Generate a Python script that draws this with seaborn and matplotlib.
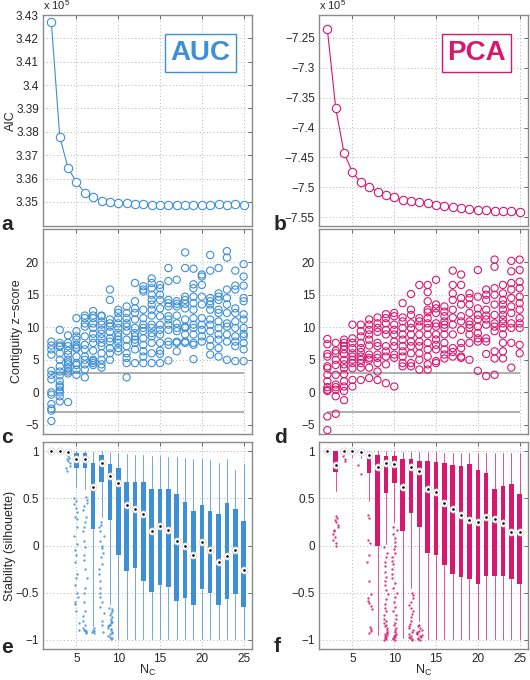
import numpy as np
import pandas as pd
import matplotlib
matplotlib.use('Agg')
import matplotlib.pyplot as plt
from matplotlib.ticker import FuncFormatter
import seaborn as sns

sns.set_style('white')
plt.rcParams['font.family'] = ['Liberation Sans', 'DejaVu Sans']
plt.rcParams['mathtext.fontset'] = 'custom'
plt.rcParams['mathtext.rm'] = 'Liberation Sans'
plt.rcParams['mathtext.it'] = 'Liberation Sans'

BLUE = '#3d8fd6'
PINK = '#d8176f'

nc = list(range(2, 26))

# AIC (x 1e5)
auc_aic = [3.4269, 3.3780, 3.3645, 3.3585, 3.3538, 3.3520, 3.3503, 3.3500, 3.3497, 3.3494,
           3.3491, 3.3490, 3.3489, 3.3489, 3.3487, 3.3486, 3.3486, 3.3487, 3.3487, 3.3486,
           3.3491, 3.3487, 3.3491, 3.3487]
pca_aic = [-7.2355, -7.3677, -7.4429, -7.4747, -7.4920, -7.4998, -7.5076, -7.5132, -7.5171, -7.5210,
           -7.5227, -7.5255, -7.5266, -7.5299, -7.5310, -7.5333, -7.5344, -7.5366, -7.5377, -7.5389,
           -7.5400, -7.5405, -7.5405, -7.5411]

# contiguity z-scores, one list per N_C
auc_z = [
    [7.8, 7.2, 6.6, 5.8, 3.3, 2.7, 2.0, 0.0, -0.35, -1.8, -2.5, -2.8, -4.4],
    [9.6, 7.6, 7.2, 7.0, 6.0, 5.0, 4.0, 3.2, 2.6, 1.7, 1.1, 0.8, 0.3, 0.0, -0.6, -1.4],
    [8.75, 7.6, 7.1, 6.4, 5.8, 5.0, 4.6, 4.3, 3.7, 3.2, 2.9, -1.5],
    [11.4, 9.4, 8.6, 8.1, 7.3, 6.9, 6.7, 5.5, 4.5, 4.2, 3.5, 2.7],
    [11.8, 11.4, 10.6, 10.1, 8.6, 7.3, 6.6, 5.5, 5.0, 4.3, 3.5, 2.3],
    [12.5, 11.8, 11.4, 10.6, 9.9, 9.0, 8.3, 7.6, 6.4, 5.0, 4.8, 4.5, 4.2],
    [11.8, 11.7, 10.9, 10.4, 9.6, 9.0, 8.3, 7.6, 7.1, 6.0, 5.0, 4.3, 3.8],
    [15.8, 14.2, 11.2, 10.6, 10.1, 9.3, 8.3, 7.8, 6.8, 6.0, 5.0],
    [12.7, 12.2, 11.4, 10.6, 9.9, 9.1, 8.6, 8.1, 7.6, 6.8, 6.3],
    [13.2, 12.2, 11.4, 10.6, 10.1, 9.4, 8.1, 7.1, 6.0, 5.3, 4.5, 2.3],
    [16.8, 14.0, 12.9, 12.2, 11.2, 9.9, 9.1, 8.6, 8.1, 7.6, 6.6, 4.5],
    [16.3, 15.8, 15.5, 12.7, 11.4, 10.4, 9.9, 9.4, 8.3, 7.3, 6.3, 5.5, 4.5],
    [17.5, 16.8, 16.0, 15.0, 14.2, 13.5, 12.7, 11.8, 10.4, 9.9, 9.1, 8.6, 7.6, 6.0, 4.5],
    [16.5, 16.0, 15.0, 14.2, 12.9, 11.7, 10.4, 9.6, 8.9, 7.6, 6.4, 5.9, 4.5],
    [19.1, 17.1, 14.2, 13.7, 13.2, 11.7, 11.2, 10.4, 9.6, 7.8, 7.3, 4.9],
    [17.3, 14.0, 13.6, 13.2, 11.8, 10.6, 9.9, 9.4, 7.8, 7.6, 6.3],
    [21.5, 19.1, 14.7, 14.2, 13.6, 12.9, 11.2, 10.1, 9.9, 8.9, 7.8, 7.6],
    [19.0, 16.6, 16.0, 14.7, 13.7, 12.7, 11.4, 10.4, 9.9, 8.9, 7.6, 7.3, 5.1],
    [18.1, 17.8, 16.5, 14.7, 13.5, 11.4, 10.4, 9.6, 8.6, 7.8],
    [21.1, 18.7, 14.5, 14.0, 13.5, 12.7, 11.2, 10.4, 9.4, 8.1, 7.1, 5.8],
    [19.1, 15.2, 14.7, 14.2, 12.7, 12.2, 10.9, 9.9, 8.9, 8.1, 6.8, 5.5],
    [21.7, 20.7, 15.8, 14.5, 13.5, 12.2, 10.6, 10.1, 8.9, 7.8, 5.0],
    [18.7, 16.4, 15.8, 12.9, 12.2, 10.9, 9.9, 8.6, 7.8, 7.1, 4.8],
    [19.7, 17.8, 16.4, 14.5, 14.0, 12.0, 11.2, 9.9, 9.0, 8.6, 7.6, 6.6, 4.8],
]
pca_z = [
    [8.2, 7.4, 5.9, 5.5, 4.0, 3.7, 2.7, 1.7, 0.8, 0.4, 0.2, -3.7, -5.8],
    [7.6, 6.4, 6.0, 5.0, 4.2, 2.7, 1.2, 0.8, 0.4, -0.6, -3.3],
    [8.1, 7.6, 7.1, 6.6, 5.9, 5.0, 4.3, 3.7, 2.8, 1.7, 0.9, 0.2, -1.2],
    [10.4, 8.3, 7.6, 6.8, 6.0, 5.5, 5.0, 4.5, 3.7, 1.9, 0.9],
    [10.4, 9.4, 8.6, 7.6, 6.8, 6.2, 5.5, 5.0, 4.5, 3.8, 1.9],
    [11.2, 10.4, 9.6, 8.9, 8.1, 7.2, 5.8, 5.3, 5.0, 3.8, 2.2],
    [11.5, 10.6, 9.9, 9.3, 7.6, 7.1, 5.8, 5.3, 4.5, 3.2, 1.9],
    [12.0, 11.4, 10.6, 9.6, 8.9, 7.1, 6.3, 5.5, 4.3, 1.4],
    [12.2, 11.7, 10.4, 9.6, 8.9, 7.8, 7.1, 5.8, 5.3, 0.9],
    [13.7, 11.5, 10.9, 9.9, 8.9, 8.1, 7.1, 6.3, 5.5, 4.5, 4.0],
    [15.1, 12.7, 11.9, 10.6, 9.9, 8.9, 7.8, 7.1, 6.0, 4.5, 4.0],
    [16.5, 11.4, 10.9, 10.1, 8.9, 7.8, 7.1, 6.0, 5.0, 3.5],
    [16.5, 15.4, 14.0, 12.7, 12.3, 11.4, 10.6, 9.9, 8.9, 7.6, 6.6, 5.5, 4.3, 3.5],
    [17.3, 13.5, 12.9, 12.2, 10.6, 10.1, 8.9, 8.1, 7.3, 6.6, 4.8, 4.5],
    [13.2, 12.4, 11.7, 10.9, 10.4, 9.9, 8.9, 7.6, 6.6, 5.8, 5.2],
    [18.7, 16.5, 15.2, 14.2, 12.7, 11.5, 10.4, 8.9, 6.8, 6.2, 5.5],
    [18.1, 16.5, 14.5, 13.5, 11.7, 10.9, 9.6, 7.6, 6.8, 5.5, 5.3],
    [15.2, 14.5, 13.5, 12.2, 10.9, 10.4, 9.9, 8.9, 7.6, 5.0],
    [18.8, 14.7, 12.9, 11.9, 11.2, 10.1, 9.1, 8.3, 7.8, 3.3],
    [15.8, 15.0, 14.2, 12.7, 11.8, 11.2, 10.4, 8.3, 7.8, 5.9, 2.5],
    [20.4, 19.3, 16.0, 15.0, 13.5, 11.9, 10.6, 10.1, 9.4, 6.3, 5.2, 2.7],
    [16.5, 15.2, 14.2, 13.5, 12.7, 11.9, 11.2, 10.6, 9.9, 8.9, 7.6, 6.3, 5.2],
    [20.2, 18.6, 16.8, 15.8, 14.5, 13.2, 12.2, 10.6, 9.9, 7.6, 3.8],
    [20.4, 18.8, 17.0, 16.0, 14.7, 13.7, 12.7, 11.4, 10.6, 9.9, 7.3, 6.0],
]
z_thresholds = [3, -3]

# stability (silhouette) box summaries
auc_med = [1.0, 1.0, 0.99, 0.92, 0.92, 0.62, 0.88, 0.74, 0.66, 0.43, 0.39, 0.33,
           0.15, 0.21, 0.17, 0.05, 0.0, -0.1, 0.04, -0.05, -0.18, -0.11, -0.05, -0.26]
auc_q1 = [0.995, 0.995, 0.98, 0.82, 0.82, 0.18, 0.68, 0.27, -0.1, -0.27, -0.24, -0.38,
          -0.49, -0.42, -0.44, -0.59, -0.56, -0.63, -0.46, -0.5, -0.63, -0.57, -0.52, -0.65]
auc_q3 = [1.0, 1.0, 1.0, 0.98, 0.98, 0.88, 0.965, 0.87, 0.82, 0.67, 0.67, 0.67,
          0.6, 0.6, 0.6, 0.55, 0.46, 0.37, 0.43, 0.37, 0.34, 0.45, 0.39, 0.26]
auc_lo = [0.99, 0.99, 0.96, 0.62, 0.6, -0.86, 0.3, -0.62, -0.99, -0.99, -0.99, -0.99,
          -0.99, -0.99, -0.99, -0.99, -0.99, -0.99, -0.99, -0.99, -0.99, -0.99, -0.99, -0.99]
auc_hi = [1.0, 1.0, 1.0, 1.0, 1.0, 0.99, 1.0, 0.99, 0.98, 0.97, 0.96, 0.96,
          0.95, 0.95, 0.94, 0.94, 0.93, 0.92, 0.92, 0.91, 0.88, 0.92, 0.8, 0.87]
auc_out = {
    4: [0.95, 0.93, 0.92, 0.9, 0.88, 0.85, 0.82, 0.79],
    5: [0.5, 0.47, 0.44, 0.4, 0.36, 0.3, 0.28, 0.2, 0.1, 0.02, -0.05, -0.1, -0.18, -0.3,
        -0.35, -0.42, -0.5, -0.55, -0.6, -0.62, -0.7, -0.82, -0.9],
    6: [0.52, 0.48, 0.45, 0.42, 0.38, 0.3, 0.25, 0.2, 0.15, 0.05, -0.02, -0.1, -0.15, -0.25,
        -0.35, -0.45, -0.5, -0.6, -0.7, -0.75, -0.8, -0.85, -0.88, -0.9, -0.9, -0.91, -0.92, -0.93],
    7: [-0.88, -0.9, -0.91, -0.92, -0.93],
    8: [0.25, 0.22, 0.2, 0.15, 0.1, 0.05, 0.0, -0.03, -0.08, -0.12, -0.2, -0.25, -0.3, -0.38,
        -0.45, -0.5, -0.55, -0.6, -0.65, -0.72, -0.8, -0.85, -0.92],
    9: [-0.66, -0.68, -0.7, -0.72, -0.74, -0.76, -0.78, -0.8, -0.81, -0.82, -0.84, -0.85, -0.86,
        -0.88, -0.89, -0.9, -0.92, -0.93, -0.94, -0.96, -0.97, -0.98, -0.99],
}

pca_med = [1.0, 0.86, 1.0, 1.0, 0.99, 0.96, 0.83, 0.88, 0.87, 0.62, 0.83, 0.79,
           0.6, 0.57, 0.45, 0.39, 0.32, 0.27, 0.25, 0.3, 0.28, 0.24, 0.14, 0.14]
pca_q1 = [0.995, 0.78, 0.98, 0.97, 0.97, 0.77, -0.01, 0.56, 0.66, 0.15, 0.35, 0.2,
          -0.08, -0.1, -0.21, -0.3, -0.33, -0.36, -0.41, -0.32, -0.32, -0.32, -0.36, -0.41]
pca_q3 = [1.0, 1.0, 1.0, 1.0, 1.0, 0.97, 0.965, 0.95, 0.95, 0.92, 0.92, 0.9,
          0.9, 0.89, 0.88, 0.86, 0.84, 0.87, 0.8, 0.77, 0.6, 0.63, 0.65, 0.55]
pca_lo = [0.99, 0.58, 0.96, 0.94, 0.93, 0.47, -0.95, 0.02, 0.25, -0.98, -0.45, -0.8,
          -0.99, -0.99, -0.99, -0.99, -0.99, -0.99, -0.99, -0.99, -0.99, -0.99, -0.99, -0.99]
pca_hi = [1.0, 1.0, 1.0, 1.0, 1.0, 1.0, 1.0, 1.0, 1.0, 0.99, 0.99, 0.99,
          0.99, 0.99, 0.98, 0.98, 0.98, 0.98, 0.98, 0.98, 0.98, 0.98, 0.98, 0.98]
pca_out = {
    3: [0.31, 0.29, 0.27, 0.25, 0.22, 0.2, 0.17, 0.15, 0.12, 0.09, 0.06, 0.03, 0.0],
    4: [0.95, 0.92, 0.9],
    6: [0.86, 0.76],
    7: [0.32, 0.29, 0.06, 0.03, -0.1, -0.18, -0.38, -0.52, -0.56, -0.59, -0.61, -0.64, -0.67,
        -0.87, -0.89, -0.91, -0.93],
    9: [-0.02, -0.08, -0.12, -0.18, -0.22, -0.28, -0.33, -0.38, -0.42, -0.47, -0.52, -0.57,
        -0.62, -0.66, -0.7, -0.74, -0.78, -0.8, -0.82, -0.84, -0.86, -0.88, -0.9, -0.92,
        -0.93, -0.94, -0.95, -0.96, -0.97, -0.98, -0.99, -1.0],
    10: [0.2, 0.16, 0.12, 0.08, 0.04, 0.0, -0.04, -0.08, -0.12, -0.16, -0.2, -0.25, -0.3,
         -0.35, -0.4, -0.45, -0.5, -0.55, -0.6, -0.65, -0.7, -0.74, -0.78, -0.82, -0.85,
         -0.88, -0.9, -0.92, -0.94, -0.95, -0.96, -0.97, -0.98, -0.99, -1.0],
    12: [-0.5, -0.53, -0.56, -0.6, -0.63, -0.66, -0.7, -0.73, -0.76, -0.8, -0.83, -0.86,
         -0.88, -0.9, -0.92, -0.94, -0.96, -0.97, -0.98, -0.99, -1.0],
    13: [-0.84, -0.86, -0.88, -0.9, -0.91, -0.92, -0.93, -0.94, -0.95, -0.96, -0.97, -0.98,
         -0.99, -1.0],
}

W, H = 530, 680
fig = plt.figure(figsize=(W / 100, H / 100), dpi=100)


def px_axes(x0, y0, x1, y1):
    return fig.add_axes([x0 / W, 1 - y1 / H, (x1 - x0) / W, (y1 - y0) / H])


def style(ax, ylim, yticks, xlabels=False):
    ax.set_xlim(1, 26)
    ax.set_xticks([5, 10, 15, 20, 25])
    ax.set_ylim(*ylim)
    ax.set_yticks(yticks)
    ax.set_axisbelow(True)
    ax.grid(True, linestyle=(0, (1, 2.5)), color='#b5b5b5', linewidth=0.7)
    ax.tick_params(direction='in', length=3, width=0.6, top=True, right=True,
                   color='#555555', labelsize=8.5, pad=3)
    for s in ax.spines.values():
        s.set_color('#8a8a8a')
        s.set_linewidth(1.0)
    if not xlabels:
        ax.set_xticklabels([])
    ax.set_xlabel('')
    ax.set_ylabel('')


fmt = FuncFormatter(lambda v, p: ('%g' % round(v, 4)).replace('-', '\u2212'))

cols = [(43, 252, BLUE, auc_aic, auc_z, auc_med, auc_q1, auc_q3, auc_lo, auc_hi, auc_out, 'AUC'),
        (319, 528, PINK, pca_aic, pca_z, pca_med, pca_q1, pca_q3, pca_lo, pca_hi, pca_out, 'PCA')]

for i, (x0, x1, c, aic, zs, med, q1, q3, lo, hi, outs, name) in enumerate(cols):
    # top: AIC
    ax = px_axes(x0, 15, x1, 226)
    sns.lineplot(x=nc, y=aic, ax=ax, color=c, linewidth=0.8, marker='o', markersize=6,
                 markerfacecolor='white', markeredgecolor=c, markeredgewidth=0.8)
    if i == 0:
        style(ax, (3.3397, 3.43), [3.35, 3.36, 3.37, 3.38, 3.39, 3.40, 3.41, 3.42, 3.43])
        ax.set_ylabel('AIC', fontsize=9)
        ax.yaxis.set_label_coords(-0.125, 0.5)
    else:
        style(ax, (-7.565, -7.2115), [-7.55, -7.5, -7.45, -7.4, -7.35, -7.3, -7.25])
    ax.yaxis.set_major_formatter(fmt)
    ax.text(0.0, 1.012, 'x 10$^{5}$', transform=ax.transAxes, fontsize=8, va='bottom', ha='left')
    ax.text(0.753, 0.82, name, transform=ax.transAxes, fontsize=20, fontweight='bold', color=c,
            ha='center', va='center',
            bbox=dict(boxstyle='square,pad=0.2', facecolor='white', edgecolor=c, linewidth=1))

    # middle: contiguity z-scores
    ax = px_axes(x0, 229, x1, 434)
    zdf = pd.DataFrame({'nc': np.repeat(nc, [len(v) for v in zs]),
                        'z': np.concatenate([np.asarray(v, float) for v in zs])})
    ax.hlines(z_thresholds, nc[0], nc[-1], color='#999999', linewidth=1.1, zorder=2)
    sns.scatterplot(data=zdf, x='nc', y='z', ax=ax, marker='o', s=27, color=c,
                    facecolor='none', edgecolor=c, linewidth=0.8, zorder=3)
    style(ax, (-6.4, 25.1), [-5, 0, 5, 10, 15, 20])
    ax.yaxis.set_major_formatter(fmt)
    if i == 0:
        ax.set_ylabel('Contiguity z\u2212score', fontsize=9)
        ax.yaxis.set_label_coords(-0.095, 0.5)

    # bottom: stability boxes
    ax = px_axes(x0, 442, x1, 649)
    stats = [dict(med=m, q1=a, q3=b, whislo=l, whishi=h) for m, a, b, l, h in zip(med, q1, q3, lo, hi)]
    ax.bxp(stats, positions=nc, widths=0.55, patch_artist=True, showfliers=False, showcaps=False,
           boxprops=dict(facecolor=c, edgecolor=c, linewidth=0),
           whiskerprops=dict(color=c, linewidth=0.7, alpha=0.75),
           medianprops=dict(linewidth=0), manage_ticks=False)
    odf = pd.DataFrame({'nc': np.repeat(list(outs.keys()), [len(v) for v in outs.values()]),
                        'v': np.concatenate([np.asarray(v, float) for v in outs.values()])})
    np.random.seed(3)
    sns.stripplot(data=odf, x='nc', y='v', ax=ax, native_scale=True, jitter=0.3, size=1.7,
                  color=c, linewidth=0, alpha=0.85, zorder=2)
    sns.scatterplot(x=nc, y=med, ax=ax, marker='o', s=26, facecolor='white',
                    edgecolor='#d0d0d0', linewidth=0.5, zorder=4)
    sns.scatterplot(x=nc, y=med, ax=ax, marker='o', s=3.5, color='black', linewidth=0, zorder=5)
    style(ax, (-1.1, 1.1), [-1, -0.5, 0, 0.5, 1], xlabels=True)
    ax.yaxis.set_major_formatter(fmt)
    ax.set_xlabel('N$_{\\mathrm{C}}$', fontsize=9)
    ax.xaxis.set_label_coords(0.5, -0.068)
    if i == 0:
        ax.set_ylabel('Stability (silhouette)', fontsize=9)
        ax.yaxis.set_label_coords(-0.13, 0.5)

# panel letters
for letter, xp, yp in [('a', 1, 230), ('b', 274, 230), ('c', 1, 443),
                       ('d', 274, 443), ('e', 1, 653), ('f', 274, 652)]:
    fig.text(xp / W, 1 - yp / H, letter, fontsize=15, fontweight='bold', ha='left', va='baseline')

fig.savefig('out.png', dpi=100)
